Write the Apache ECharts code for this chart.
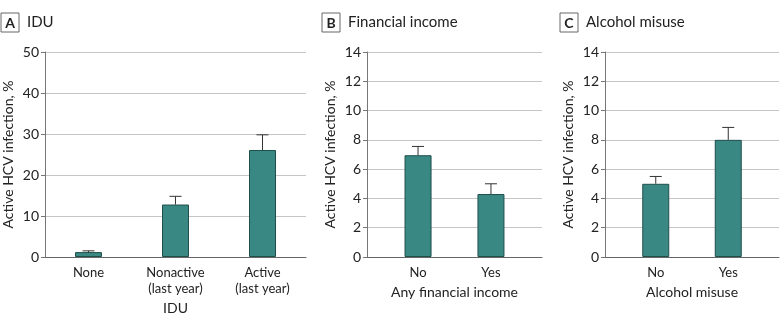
<!DOCTYPE html>
<html>
<head>
<meta charset="utf-8">
<script src="https://cdn.jsdelivr.net/npm/echarts@6/dist/echarts.min.js"></script>
<style>
  html, body { margin: 0; padding: 0; background: #fff; }
  #chart { width: 783px; height: 325px; }
</style>
</head>
<body>
<div id="chart"></div>
<script>
// A: IDU
const iduCats = ['None', 'Nonactive\n(last year)', 'Active\n(last year)'];
const iduValues = [1.2, 12.8, 26.1];
const iduUpper = [1.5, 14.8, 29.8];
// B: financial income
const incomeCats = ['No', 'Yes'];
const incomeValues = [6.95, 4.3];
const incomeUpper = [7.55, 5.0];
// C: alcohol misuse
const alcoholCats = ['No', 'Yes'];
const alcoholValues = [5.0, 8.0];
const alcoholUpper = [5.5, 8.85];

const FONT = 'Lato';
const TEXT = '#222';
const BAR = '#3a8883';
const BAR_BORDER = '#1f4f4b';

const panels = [
  { letter: 'A', title: 'IDU', cats: iduCats, values: iduValues, upper: iduUpper,
    xName: 'IDU', yMax: 50, yStep: 10, left: 45, right: 477, titleLeft: 1 },
  { letter: 'B', title: 'Financial income', cats: incomeCats, values: incomeValues, upper: incomeUpper,
    xName: 'Any financial income', yMax: 14, yStep: 2, left: 367, right: 241, titleLeft: 322 },
  { letter: 'C', title: 'Alcohol misuse', cats: alcoholCats, values: alcoholValues, upper: alcoholUpper,
    xName: 'Alcohol misuse', yMax: 14, yStep: 2, left: 605, right: 4, titleLeft: 560 },
];

const chart = echarts.init(document.getElementById('chart'));

const option = {
  animation: false,
  backgroundColor: '#fff',
  textStyle: { fontFamily: FONT },
  title: panels.map(p => ({
    text: '{box|' + p.letter + '}{t|' + p.title + '}',
    left: p.titleLeft,
    top: 13,
    padding: 0,
    textStyle: {
      rich: {
        box: {
          fontFamily: FONT, fontWeight: 'bold', fontSize: 14, color: TEXT,
          borderColor: '#666', borderWidth: 1, padding: [3, 5, 2, 5], width: 8, align: 'center',
        },
        t: { fontFamily: FONT, fontWeight: 'normal', fontSize: 15, color: TEXT, padding: [0, 0, 0, 8] },
      },
    },
  })),
  grid: panels.map(p => ({ left: p.left, right: p.right, top: 52, bottom: 68 })),
  xAxis: panels.map((p, i) => ({
    type: 'value',
    gridIndex: i,
    min: -0.5 - (p.cats.length === 2 ? 0.2 : 0),
    max: p.cats.length - 0.5 + (p.cats.length === 2 ? 0.2 : 0),
    name: p.xName,
    nameLocation: 'middle',
    nameGap: p.cats.length === 3 ? 41 : 28,
    nameTextStyle: { fontFamily: FONT, fontSize: 14, color: TEXT },
    splitLine: { show: false },
    axisTick: { show: false },
    axisLine: { show: true, onZero: false, lineStyle: { color: '#666', width: 1 } },
    axisLabel: {
      customValues: p.cats.map((c, j) => j),
      formatter: v => p.cats[Math.round(v)],
      fontFamily: FONT, fontSize: 13, color: TEXT, lineHeight: 16, margin: 8,
    },
  })),
  yAxis: panels.map((p, i) => ({
    type: 'value',
    gridIndex: i,
    min: 0,
    max: p.yMax,
    interval: p.yStep,
    name: 'Active HCV infection, %',
    nameLocation: 'middle',
    nameGap: 30,
    nameTextStyle: { fontFamily: FONT, fontSize: 14, color: TEXT },
    axisLine: { show: true, onZero: false, lineStyle: { color: '#777', width: 1 } },
    axisTick: { show: true, length: 4, lineStyle: { color: '#777' } },
    axisLabel: { fontFamily: FONT, fontSize: 14, color: TEXT, margin: 6 },
    splitLine: { show: true, lineStyle: { color: '#c6c6c6', width: 1 } },
  })),
  series: [],
};

panels.forEach((p, i) => {
  option.series.push({
    type: 'bar',
    xAxisIndex: i,
    yAxisIndex: i,
    barWidth: 27,
    itemStyle: { color: BAR, borderColor: BAR_BORDER, borderWidth: 1 },
    data: p.values.map((v, j) => [j, v]),
  });
  option.series.push({
    type: 'custom',
    xAxisIndex: i,
    yAxisIndex: i,
    z: 5,
    data: p.values.map((v, j) => [j, v, p.upper[j]]),
    renderItem(params, api) {
      const base = api.coord([api.value(0), api.value(1)]);
      const top = api.coord([api.value(0), api.value(2)]);
      const style = { stroke: '#333', lineWidth: 1 };
      return {
        type: 'group',
        children: [
          { type: 'line', shape: { x1: base[0], y1: base[1], x2: top[0], y2: top[1] }, style },
          { type: 'line', shape: { x1: top[0] - 6, y1: top[1], x2: top[0] + 6, y2: top[1] }, style },
        ],
      };
    },
  });
});

chart.setOption(option);
</script>
</body>
</html>
